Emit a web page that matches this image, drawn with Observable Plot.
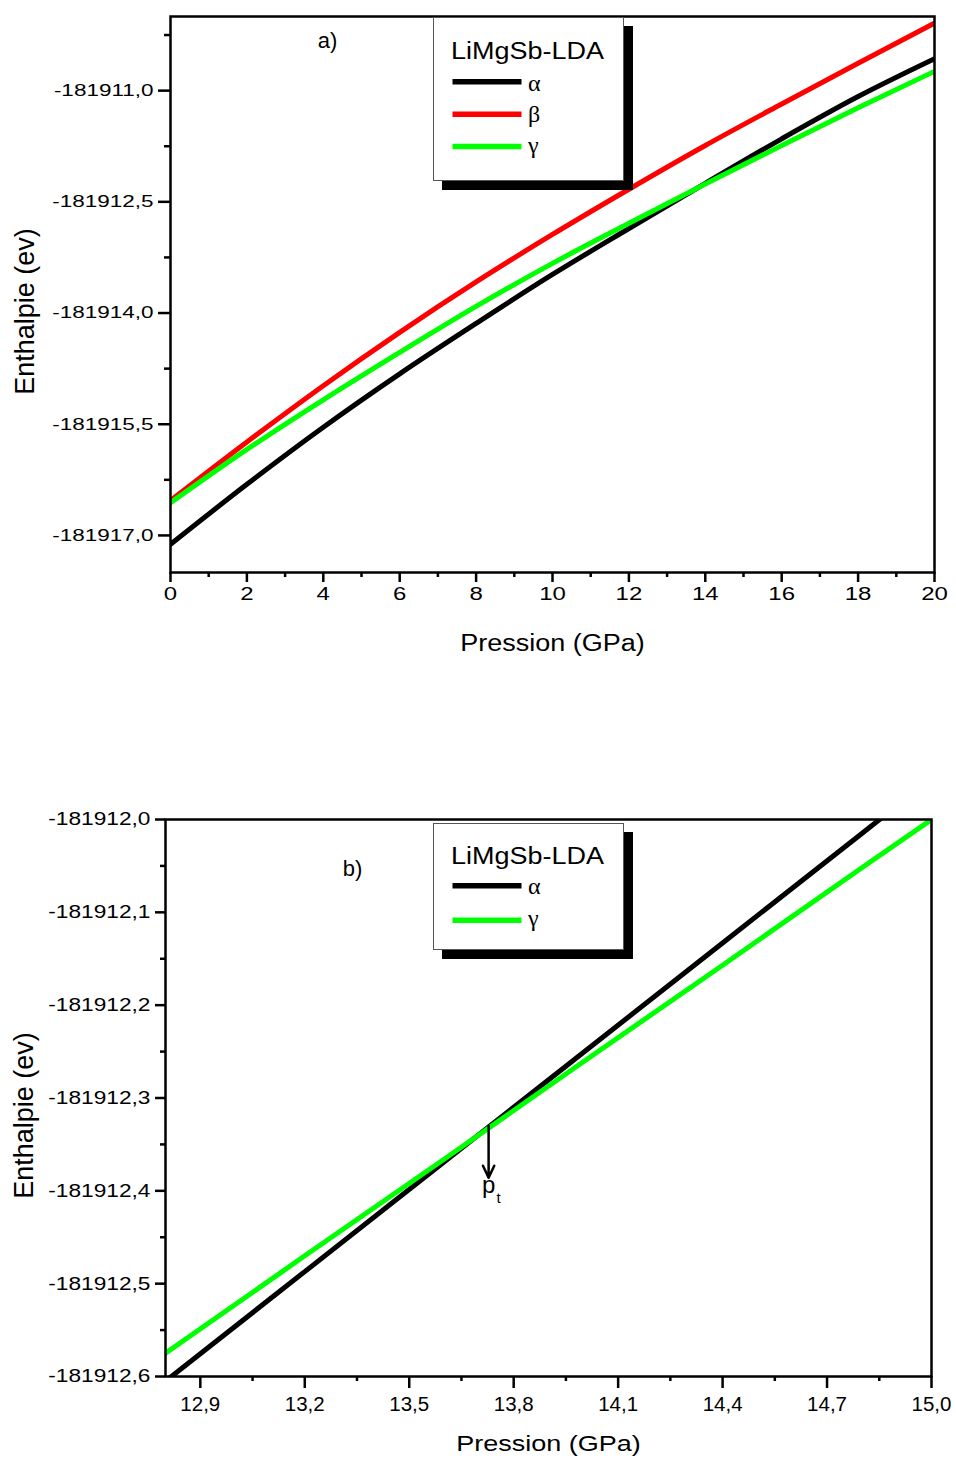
<!DOCTYPE html>
<html><head><meta charset="utf-8">
<script src="https://cdn.jsdelivr.net/npm/d3@7"></script>
<script src="https://cdn.jsdelivr.net/npm/@observablehq/plot@0.6"></script>
<style>
body{margin:0;background:#fff;}
#page{position:relative;width:956px;height:1459px;font-family:"Liberation Sans",Arial,sans-serif;overflow:hidden;}
.chart{position:absolute;left:0;}
.legend{position:absolute;background:#fff;border:1px solid #555;box-shadow:9px 9px 0 0 #000;box-sizing:border-box;}
</style></head><body><div id="page"></div>
<script>
// ---------- data: panel a) ----------
const seriesNamesA = ["α", "β", "γ"];
const seriesColorsA = ["#000000", "#ff0000", "#00ff00"];
const pressureA = [0, 2, 4, 6, 8, 10, 12, 14, 16, 18, 20];
const enthalpyAlphaA = [-181917.12, -181916.31, -181915.54, -181914.82, -181914.14, -181913.48, -181912.86, -181912.25, -181911.65, -181911.08, -181910.57];
const enthalpyBetaA  = [-181916.53, -181915.74, -181914.98, -181914.26, -181913.58, -181912.94, -181912.33, -181911.74, -181911.18, -181910.63, -181910.09];
const enthalpyGammaA = [-181916.56, -181915.84, -181915.17, -181914.53, -181913.91, -181913.33, -181912.79, -181912.26, -181911.74, -181911.23, -181910.74];
const xTicksA = [0, 2, 4, 6, 8, 10, 12, 14, 16, 18, 20];
const xMinorA = [1, 3, 5, 7, 9, 11, 13, 15, 17, 19];
const yTicksA = [-181917.0, -181915.5, -181914.0, -181912.5, -181911.0];
const yMinorA = [-181916.25, -181914.75, -181913.25, -181911.75, -181910.25];
const panelLabelA = [{x: 4.11, y: -181910.43, t: "a)"}];

// ---------- data: panel b) ----------
const seriesNamesB = ["α", "γ"];
const seriesColorsB = ["#000000", "#00ff00"];
const pressureB = [12.8, 13.2, 13.6, 14.0, 14.4, 14.8, 15.0];
const enthalpyAlphaB = [-181912.605, -181912.487, -181912.369, -181912.251, -181912.133, -181912.015, -181911.956];
const enthalpyGammaB = [-181912.575, -181912.470, -181912.366, -181912.261, -181912.157, -181912.052, -181912.000];
const xTicksB = [12.9, 13.2, 13.5, 13.8, 14.1, 14.4, 14.7, 15.0];
const xMinorB = [13.05, 13.35, 13.65, 13.95, 14.25, 14.55, 14.85];
const yTicksB = [-181912.6, -181912.5, -181912.4, -181912.3, -181912.2, -181912.1, -181912.0];
const yMinorB = [-181912.55, -181912.45, -181912.35, -181912.25, -181912.15, -181912.05];
const panelLabelB = [{x: 13.337, y: -181912.061, t: "b)"}];
const transitionArrowB = [{x1: 13.728, y1: -181912.330, x2: 13.728, y2: -181912.386}];
const transitionLabelB = [{x: 13.728, y: -181912.402, t: "p", s: "t"}];

const legendTitle = "LiMgSb-LDA";
const xTitle = "Pression (GPa)";
const yTitle = "Enthalpie (ev)";

// ---------- helpers ----------
const fmt1 = d => d.toFixed(1).replace(".", ",");
const fontSans = "Liberation Sans, Arial, sans-serif";
function rows(press, seriesVals, names) {
  const out = [];
  seriesVals.forEach((vals, i) => vals.forEach((v, j) => out.push({p: press[j], h: v, s: names[i]})));
  return out;
}
function scaleTexts(texts, sx, sy) {
  texts.forEach(t => {
    let tr = t.getAttribute("transform");
    if (!tr) {
      const x = t.getAttribute("x") || 0, y = t.getAttribute("y") || 0;
      t.removeAttribute("x"); t.removeAttribute("y");
      tr = `translate(${x},${y})`;
    }
    t.setAttribute("transform", tr + ` scale(${sx},${sy})`);
  });
}
const byLabel = (svg, label) => Array.from(svg.querySelectorAll(`g[aria-label="${label}"] text`));
const byContent = (svg, str) => Array.from(svg.querySelectorAll("text")).filter(t => t.textContent === str);

function legend(cfg) {
  const div = document.createElement("div");
  div.className = "legend";
  Object.assign(div.style, {left: cfg.left + "px", top: cfg.top + "px", width: cfg.w + "px", height: cfg.h + "px"});
  let s = `<svg width="${cfg.w - 2}" height="${cfg.h - 2}" style="display:block">`;
  s += `<text transform="translate(17,${cfg.titleY}) scale(1,0.92)" font-family="${fontSans}" font-size="27" fill="#000">${cfg.title}</text>`;
  cfg.names.forEach((n, i) => {
    const y = cfg.rowY[i];
    s += `<line x1="18.5" x2="87.5" y1="${y}" y2="${y}" stroke="${cfg.colors[i]}" stroke-width="5.5"/>`;
    s += `<text x="94" y="${y + cfg.symOff[i]}" font-family="Liberation Serif, Times New Roman, serif" font-size="24" fill="#000">${n}</text>`;
  });
  s += `</svg>`;
  div.innerHTML = s;
  return div;
}

const page = document.getElementById("page");

// ---------- panel a) ----------
const dataA = rows(pressureA, [enthalpyAlphaA, enthalpyBetaA, enthalpyGammaA], seriesNamesA);
const plotA = Plot.plot({
  width: 956, height: 662,
  marginTop: 16, marginLeft: 170, marginRight: 22, marginBottom: 90,
  style: {fontFamily: fontSans, color: "#000", background: "transparent", overflow: "visible"},
  x: {domain: [0, 20]},
  y: {domain: [-181917.5, -181910.0]},
  color: {domain: seriesNamesA, range: seriesColorsA},
  marks: [
    Plot.line(dataA, {x: "p", y: "h", z: "s", stroke: "s", strokeWidth: 5, curve: "monotone-x", clip: true}),
    Plot.axisX(xTicksA, {tickSize: 10, tickPadding: 4.7, tickFormat: d => String(d), fontSize: 24, strokeWidth: 2.5, label: null}),
    Plot.axisX(xMinorA, {tickSize: 5, tickFormat: () => "", strokeWidth: 2.5, label: null}),
    Plot.axisY(yTicksA, {tickSize: 12, tickPadding: 5, tickFormat: fmt1, fontSize: 22.5, strokeWidth: 2.5, label: null}),
    Plot.axisY(yMinorA, {tickSize: 6, tickFormat: () => "", strokeWidth: 2.5, label: null}),
    Plot.frame({strokeWidth: 2.5}),
    Plot.text(panelLabelA, {x: "x", y: "y", text: "t", fontSize: 22, lineAnchor: "bottom"}),
    Plot.text([xTitle], {text: d => d, frameAnchor: "bottom", textAnchor: "middle", lineAnchor: "bottom", dy: 78, fontSize: 27}),
    Plot.text([yTitle], {text: d => d, frameAnchor: "left", textAnchor: "middle", rotate: -90, lineAnchor: "bottom", dx: -137, dy: 17, fontSize: 27})
  ]
});
scaleTexts(byLabel(plotA, "x-axis tick label"), 1, 0.74);
scaleTexts(byLabel(plotA, "y-axis tick label"), 1, 0.75);
scaleTexts(byContent(plotA, xTitle), 1, 0.86);
plotA.classList.add("chart");
plotA.style.top = "0px";
page.appendChild(plotA);
page.appendChild(legend({left: 433, top: 17, w: 191, h: 164, title: legendTitle, names: seriesNamesA, colors: seriesColorsA,
  titleY: 41.3, rowY: [63.7, 96.3, 128.5], symOff: [9, 8, 6.5]}));

// ---------- panel b) ----------
const dataB = rows(pressureB, [enthalpyAlphaB, enthalpyGammaB], seriesNamesB);
const plotB = Plot.plot({
  width: 956, height: 759,
  marginTop: 119, marginLeft: 165, marginRight: 25, marginBottom: 83,
  style: {fontFamily: fontSans, color: "#000", background: "transparent", overflow: "visible"},
  x: {domain: [12.8, 15.0]},
  y: {domain: [-181912.6, -181912.0]},
  color: {domain: seriesNamesB, range: seriesColorsB},
  marks: [
    Plot.line(dataB, {x: "p", y: "h", z: "s", stroke: "s", strokeWidth: 5, clip: true}),
    Plot.arrow(transitionArrowB, {x1: "x1", y1: "y1", x2: "x2", y2: "y2", stroke: "#000", strokeWidth: 2.5, headLength: 8, headAngle: 50}),
    Plot.text(transitionLabelB, {x: "x", y: "y", text: "t", fontSize: 24, lineAnchor: "bottom"}),
    Plot.text(transitionLabelB, {x: "x", y: "y", text: "s", fontSize: 15, lineAnchor: "bottom", dx: 10, dy: 10}),
    Plot.axisX(xTicksB, {tickSize: 12, tickPadding: 8, tickFormat: fmt1, fontSize: 20.5, strokeWidth: 2.5, label: null}),
    Plot.axisX(xMinorB, {tickSize: 5, tickFormat: () => "", strokeWidth: 2.5, label: null}),
    Plot.axisY(yTicksB, {tickSize: 10, tickPadding: 5, tickFormat: fmt1, fontSize: 22.7, strokeWidth: 2.5, label: null}),
    Plot.axisY(yMinorB, {tickSize: 5, tickFormat: () => "", strokeWidth: 2.5, label: null}),
    Plot.frame({strokeWidth: 2.5}),
    Plot.text(panelLabelB, {x: "x", y: "y", text: "t", fontSize: 22, lineAnchor: "bottom"}),
    Plot.text([xTitle], {text: d => d, frameAnchor: "bottom", textAnchor: "middle", lineAnchor: "bottom", dy: 74, fontSize: 27}),
    Plot.text([yTitle], {text: d => d, frameAnchor: "left", textAnchor: "middle", rotate: -90, lineAnchor: "bottom", dx: -133, dy: 17.5, fontSize: 27})
  ]
});
scaleTexts(byLabel(plotB, "y-axis tick label"), 1, 0.82);
scaleTexts(byContent(plotB, xTitle), 1, 0.84);
plotB.classList.add("chart");
plotB.style.top = "700px";
page.appendChild(plotB);
page.appendChild(legend({left: 433, top: 823, w: 191, h: 127, title: legendTitle, names: seriesNamesB, colors: seriesColorsB,
  titleY: 40, rowY: [61.7, 96.3], symOff: [8, 6]}));
</script>
</body></html>
